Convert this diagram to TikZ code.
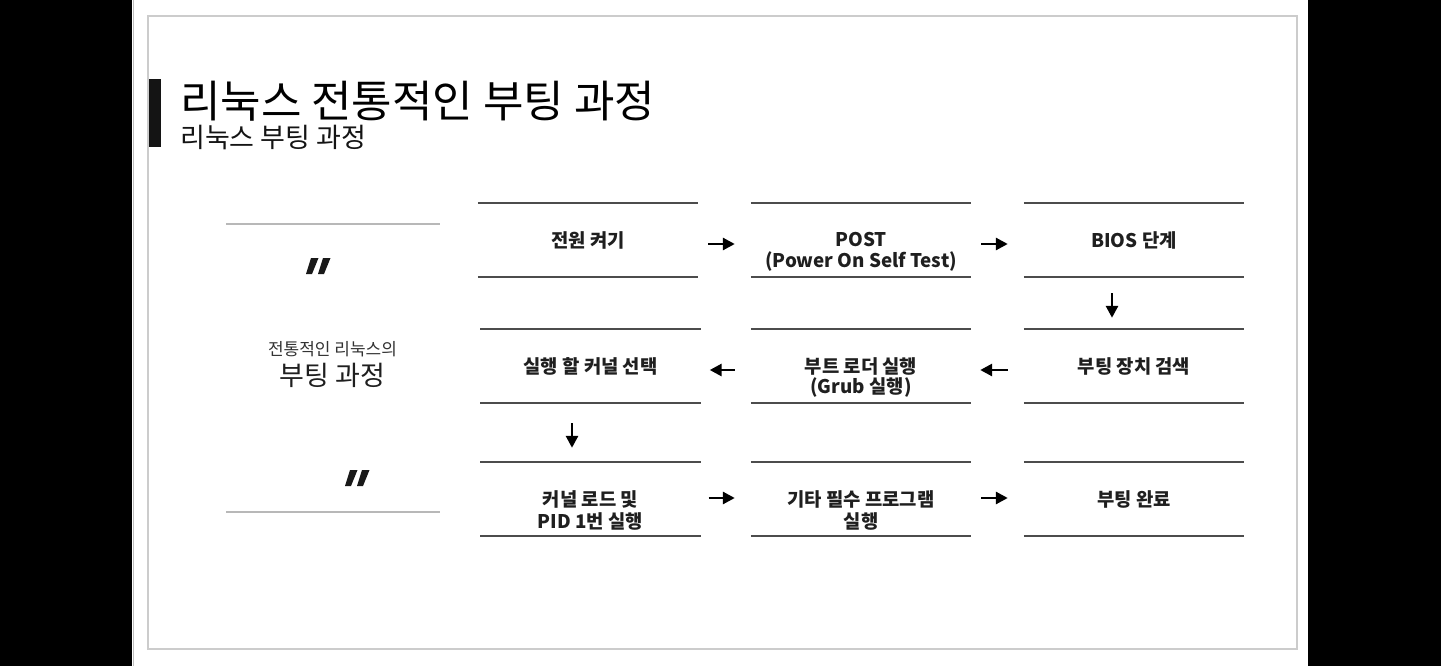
\documentclass[tikz,border=0pt]{standalone}
\usepackage{fontspec}
\setmainfont{Noto Sans CJK KR}
\usetikzlibrary{arrows.meta}
\begin{document}
\begin{tikzpicture}[x=1pt,y=-1pt,
  boxnode/.style={minimum width=220pt,minimum height=74pt,inner sep=0pt,
    font=\fontsize{18.8}{22}\selectfont\bfseries,text=black!88},
  subline/.style={inner sep=0pt,font=\fontsize{18.8}{22}\selectfont\bfseries,text=black!88},
  boxline/.style={draw=black!70,line width=1.8pt},
  flow/.style={line width=2.8pt,-{Triangle[length=12pt,width=12pt]}},
  sideline/.style={draw=black!28,line width=1.4pt},
  quotemark/.style={fill=black!90}]
\useasboundingbox (0,0) rectangle (1441,666);
\fill[black] (0,0) rectangle (1441,666);
\fill[white] (132,0) rectangle (1308,666);
\draw[black!25,line width=1pt] (133,0) -- (133,666);
\draw[black!20,line width=1.6pt] (148,16) rectangle (1297,649);
% title
\fill[black!92] (149,79) rectangle (161,147);
\node[anchor=west,inner sep=0pt,font=\fontsize{44}{48}\selectfont,text=black] (title) at (180,101) {리눅스 전통적인 부팅 과정};
\node[anchor=west,inner sep=0pt,font=\fontsize{27}{30}\selectfont,text=black!92] (subtitle) at (180,137) {리눅스 부팅 과정};
% left panel
\draw[sideline] (226,224) -- (440,224);
\draw[sideline] (226,512) -- (440,512);
\fill[quotemark] (311,258) -- (318.5,258) -- (312,274) -- (306,274) -- cycle;
\fill[quotemark] (323,258) -- (330.5,258) -- (324,274) -- (318,274) -- cycle;
\begin{scope}[shift={(39,212)}]
\fill[quotemark] (311,258) -- (318.5,258) -- (312,274) -- (306,274) -- cycle;
\fill[quotemark] (323,258) -- (330.5,258) -- (324,274) -- (318,274) -- cycle;
\end{scope}
\node[inner sep=0pt,font=\fontsize{17}{20}\selectfont,text=black!80] (lt1) at (332.5,349.5) {전통적인 리눅스의};
\node[inner sep=0pt,font=\fontsize{27}{30}\selectfont,text=black!88] (lt2) at (332.5,375) {부팅 과정};
% boxes
\node[boxnode] (a1) at (588,240) {전원 켜기};
\node[boxnode] (a2) at (861,240) {POST};
\node[subline] (a2x) at ([yshift=-22pt]a2.center) {(Power On Self Test)};
\node[boxnode] (a3) at (1134,240) {BIOS 단계};
\node[boxnode] (b1) at (590.5,366) {실행 할 커널 선택};
\node[boxnode] (b2) at (861,366) {부트 로더 실행};
\node[subline] (b2x) at ([yshift=-22pt]b2.center) {(Grub 실행)};
\node[boxnode] (b3) at (1134,366) {부팅 장치 검색};
\node[boxnode] (c1) at (590.5,499) {커널 로드 및};
\node[subline] (c1x) at ([yshift=-22pt]c1.center) {PID 1번 실행};
\node[boxnode] (c2) at (861,499) {기타 필수 프로그램};
\node[subline] (c2x) at ([yshift=-22pt]c2.center) {실행};
\node[boxnode] (c3) at (1134,499) {부팅 완료};
\foreach \n in {a1,a2,a3,b1,b2,b3,c1,c2,c3}
  \draw[boxline] (\n.north west) -- (\n.north east) (\n.south west) -- (\n.south east);
% arrows
\draw[flow,shorten <=10pt,shorten >=16pt] ([yshift=-4pt]a1.east) -- ([yshift=-4pt]a2.west);
\draw[flow,shorten <=10pt,shorten >=16pt] ([yshift=-4pt]a2.east) -- ([yshift=-4pt]a3.west);
\draw[flow,shorten <=16pt,shorten >=11pt] ([xshift=-22pt]a3.south) -- ([xshift=-22pt]b3.north);
\draw[flow,shorten <=16pt,shorten >=9pt] ([yshift=-4pt]b3.west) -- ([yshift=-4pt]b2.east);
\draw[flow,shorten <=16pt,shorten >=9pt] ([yshift=-4pt]b2.west) -- ([yshift=-4pt]b1.east);
\draw[flow,shorten <=20pt,shorten >=14pt] ([xshift=-18.5pt]b1.south) -- ([xshift=-18.5pt]c1.north);
\draw[flow,shorten <=8pt,shorten >=16pt] ([yshift=1pt]c1.east) -- ([yshift=1pt]c2.west);
\draw[flow,shorten <=10pt,shorten >=16pt] ([yshift=1pt]c2.east) -- ([yshift=1pt]c3.west);
\end{tikzpicture}
\end{document}
